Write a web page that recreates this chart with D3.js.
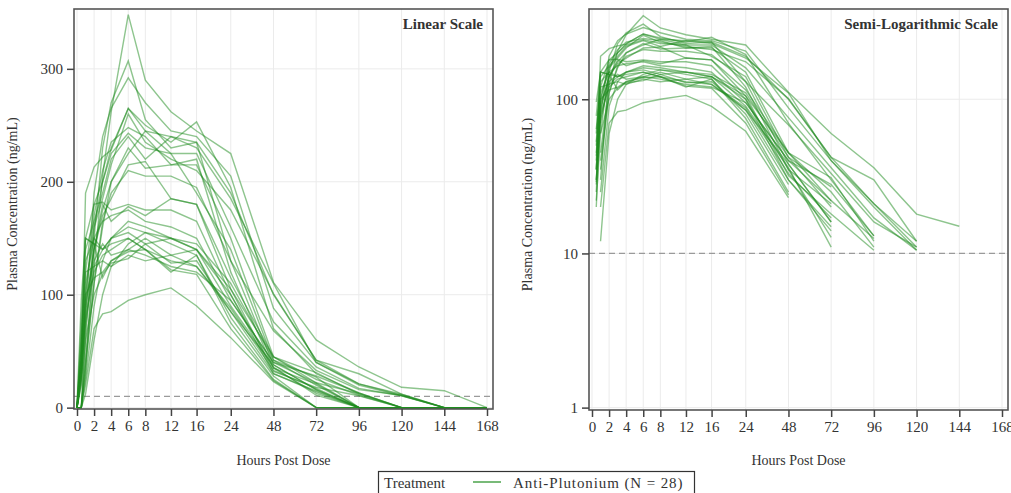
<!DOCTYPE html>
<html>
<head>
<meta charset="utf-8">
<script src="https://cdn.jsdelivr.net/npm/d3@7"></script>
<style>
  body { margin: 0; background: #fff; }
  svg text { font-family: "Liberation Serif", "DejaVu Serif", serif; fill: #333; }
</style>
</head>
<body>
<svg id="chart" width="1011" height="493"></svg>
<script>
// sampling times (hours post dose)
const times = [0, 0.5, 1, 2, 3, 4, 6, 8, 12, 16, 24, 48, 72, 96, 120, 144, 168];
const xTicks = [0, 2, 4, 6, 8, 12, 16, 24, 48, 72, 96, 120, 144, 168];
const linTicks = [0, 100, 200, 300];
const logTicks = [1, 10, 100];
const lloq = 10;
const treatment = "Anti-Plutonium";
const nSubjects = 28;

// concentrations (ng/mL) per subject, BLQ = 0
const subjects = [
  [0, 0, 45, 125, 205, 262, 348, 290, 262, 245, 225, 111, 60, 36, 18, 15, 0],
  [0, 0, 30, 150, 230, 270, 307, 255, 230, 235, 190, 100, 42, 30, 12, 0, 0],
  [0, 20, 80, 190, 240, 265, 292, 270, 245, 240, 205, 88, 40, 21, 11, 0, 0],
  [0, 35, 190, 213, 222, 228, 265, 245, 225, 225, 160, 76, 36, 17, 10.5, 0, 0],
  [0, 0, 60, 160, 200, 230, 265, 250, 235, 253, 195, 70, 30, 13, 0, 0, 0],
  [0, 25, 100, 170, 210, 235, 248, 240, 215, 215, 150, 45, 22, 12.5, 0, 0, 0],
  [0, 40, 120, 180, 200, 225, 243, 230, 225, 190, 140, 42, 27, 0, 0, 0, 0],
  [0, 50, 140, 165, 190, 220, 240, 220, 240, 235, 130, 38, 16, 0, 0, 0, 0],
  [0, 0, 35, 110, 160, 200, 230, 212, 215, 220, 120, 35, 12.7, 0, 0, 0, 0],
  [0, 30, 90, 140, 170, 185, 215, 218, 185, 180, 105, 32, 18, 10.5, 0, 0, 0],
  [0, 60, 150, 180, 182, 175, 180, 175, 175, 165, 100, 30, 14.9, 0, 0, 0, 0],
  [0, 0, 70, 140, 180, 165, 178, 170, 185, 180, 115, 45, 25, 11, 0, 0, 0],
  [0, 45, 110, 150, 165, 170, 175, 165, 160, 150, 95, 40, 22, 0, 0, 0, 0],
  [0, 96, 150, 145, 140, 150, 165, 160, 150, 140, 90, 36, 11, 0, 0, 0, 0],
  [0, 0, 25, 90, 130, 150, 160, 155, 145, 135, 80, 28, 0, 0, 0, 0, 0],
  [0, 30, 75, 125, 140, 150, 155, 145, 150, 145, 110, 42, 20, 0, 0, 0, 0],
  [0, 53, 130, 150, 140, 145, 150, 140, 130, 125, 85, 38, 16, 0, 0, 0, 0],
  [0, 0, 12, 60, 100, 125, 145, 155, 150, 140, 100, 35, 21, 0, 0, 0, 0],
  [0, 28, 80, 120, 135, 140, 150, 140, 120, 135, 75, 25, 0, 0, 0, 0, 0],
  [0, 35, 95, 130, 145, 135, 140, 150, 135, 125, 88, 33, 17, 0, 0, 0, 0],
  [0, 43, 100, 115, 120, 130, 140, 135, 125, 120, 95, 40, 28, 13, 0, 0, 0],
  [0, 0, 20, 70, 83, 85, 95, 100, 106, 90, 62, 23, 0, 0, 0, 0, 0],
  [0, 64, 120, 125, 130, 125, 135, 130, 135, 140, 105, 45, 31, 12, 0, 0, 0],
  [0, 78, 150, 145, 115, 130, 138, 140, 122, 118, 70, 24, 0, 0, 0, 0, 0],
  [0, 22, 60, 100, 118, 128, 132, 145, 128, 130, 85, 30, 14, 0, 0, 0, 0],
  [0, 0, 40, 110, 165, 190, 210, 205, 205, 195, 130, 68, 33, 16, 11, 0, 0],
  [0, 35, 100, 160, 185, 215, 260, 235, 220, 210, 175, 101, 42, 21, 12, 0, 0],
  [0, 29, 85, 140, 175, 200, 225, 245, 240, 230, 185, 110, 40, 20, 10.5, 0, 0]
];

const svg = d3.select("#chart");
const green = "#1e8c1e";

// tick gaps get wider as the hours stretch out
const gapUnits = {2: 1, 4: 1.5, 8: 2, 24: 2.5};

function xScaleFor(x0, x1) {
  let acc = [0];
  for (let i = 1; i < xTicks.length; i++) acc.push(acc[i - 1] + gapUnits[xTicks[i] - xTicks[i - 1]]);
  const total = acc[acc.length - 1];
  return d3.scaleLinear().domain(xTicks).range(acc.map(a => x0 + (x1 - x0) * a / total));
}

function drawPanel(opts) {
  const {left, right, top, bottom, yScale, yTicks, title, logMode} = opts;
  const x = xScaleFor(left + 3, right - 6);
  const g = svg.append("g");

  // gridlines
  g.selectAll(".vgrid").data(xTicks).join("line")
    .attr("x1", d => x(d)).attr("x2", d => x(d))
    .attr("y1", top).attr("y2", bottom)
    .attr("stroke", "#ebebeb").attr("stroke-width", 1);
  g.selectAll(".hgrid").data(yTicks).join("line")
    .attr("x1", left).attr("x2", right)
    .attr("y1", d => yScale(d)).attr("y2", d => yScale(d))
    .attr("stroke", "#ebebeb").attr("stroke-width", 1);

  // LLOQ reference
  g.append("line")
    .attr("x1", left).attr("x2", right)
    .attr("y1", yScale(lloq)).attr("y2", yScale(lloq))
    .attr("stroke", "#9a9a9a").attr("stroke-width", 1.2)
    .attr("stroke-dasharray", "6,4");

  const line = d3.line()
    .defined(d => !logMode || d[1] > 0)
    .x(d => x(d[0]))
    .y(d => yScale(d[1]));

  g.selectAll(".subj").data(subjects).join("path")
    .attr("fill", "none")
    .attr("stroke", green)
    .attr("stroke-opacity", 0.5)
    .attr("stroke-width", 1.4)
    .attr("d", s => line(s.map((v, i) => [times[i], v])));

  // frame
  g.append("rect")
    .attr("x", left).attr("y", top)
    .attr("width", right - left).attr("height", bottom - top)
    .attr("fill", "none").attr("stroke", "#555").attr("stroke-width", 1.6);

  // axes
  const xAxis = g.append("g")
    .attr("transform", `translate(0,${bottom})`)
    .call(d3.axisBottom(x).tickValues(xTicks).tickSize(7).tickSizeOuter(0).tickPadding(4));
  xAxis.select(".domain").remove();
  xAxis.selectAll("line").attr("stroke", "#444").attr("stroke-width", 1.5);
  xAxis.selectAll("text").attr("font-size", 15).attr("font-family", "Liberation Serif").attr("fill", "#333");

  const yAxis = g.append("g")
    .attr("transform", `translate(${left},0)`)
    .call(d3.axisLeft(yScale).tickValues(yTicks).tickFormat(d3.format("d")).tickSize(7).tickSizeOuter(0).tickPadding(4));
  yAxis.select(".domain").remove();
  yAxis.selectAll("line").attr("stroke", "#444").attr("stroke-width", 1.5);
  yAxis.selectAll("text").attr("font-size", 15).attr("font-family", "Liberation Serif").attr("fill", "#333");

  g.append("text")
    .attr("x", right - 10).attr("y", top + 20)
    .attr("text-anchor", "end")
    .attr("font-size", 15).attr("font-weight", "bold")
    .text(title);

  g.append("text")
    .attr("x", (left + right) / 2).attr("y", 465)
    .attr("text-anchor", "middle")
    .attr("font-size", 14)
    .text("Hours Post Dose");

  g.append("text")
    .attr("transform", `translate(${left - 57},${(top + bottom) / 2 - 5}) rotate(-90)`)
    .attr("text-anchor", "middle")
    .attr("font-size", 14)
    .text("Plasma Concentration (ng/mL)");
}

drawPanel({
  left: 74, right: 493, top: 9, bottom: 409,
  yScale: d3.scaleLinear().domain([-1.2, 353]).range([409, 9]),
  yTicks: linTicks, title: "Linear Scale", logMode: false
});

drawPanel({
  left: 589, right: 1008, top: 9, bottom: 410,
  yScale: d3.scaleLog().domain([0.965, 385]).range([410, 9]),
  yTicks: logTicks, title: "Semi-Logarithmic Scale", logMode: true
});

// legend
const leg = svg.append("g");
leg.append("rect")
  .attr("x", 378.5).attr("y", 471.5).attr("width", 316).attr("height", 30)
  .attr("fill", "#fff").attr("stroke", "#333").attr("stroke-width", 1.2);
leg.append("text").attr("x", 384).attr("y", 488).attr("font-size", 15).text("Treatment");
leg.append("line").attr("x1", 473).attr("x2", 501).attr("y1", 482).attr("y2", 482)
  .attr("stroke", green).attr("stroke-opacity", 0.75).attr("stroke-width", 1.6);
leg.append("text").attr("x", 513).attr("y", 488).attr("font-size", 15)
  .attr("letter-spacing", 0.9)
  .text(`${treatment} (N = ${nSubjects})`);
</script>
</body>
</html>
